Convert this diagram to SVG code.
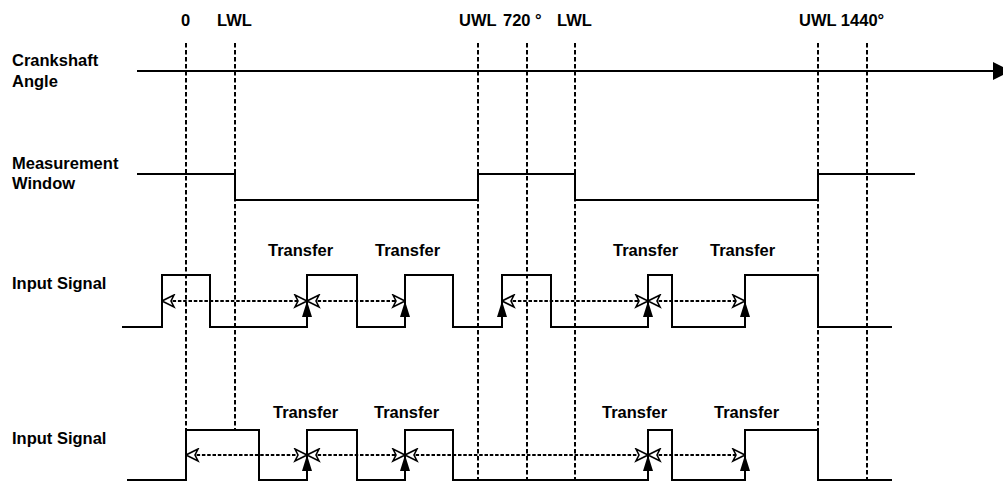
<svg xmlns="http://www.w3.org/2000/svg" width="1003" height="481" viewBox="0 0 1003 481">
<style>
text{font-family:"Liberation Sans",Arial,sans-serif;font-weight:bold;font-size:16.5px;fill:#000}
.sig{fill:none;stroke:#000;stroke-width:2;stroke-linejoin:miter}
.grid{fill:none;stroke:#000;stroke-width:2;stroke-dasharray:4.5 2.5}
.dash{fill:none;stroke:#000;stroke-width:2;stroke-dasharray:3.5 1.8}
.up{fill:#000;stroke:none}
</style>
<defs>
<marker id="open" viewBox="0 0 15 15" refX="14" refY="7.5" markerWidth="15" markerHeight="15" markerUnits="userSpaceOnUse" orient="auto-start-reverse">
<path d="M14,7.5 L2,1.5 L5,7.5 L2,13.5 Z" fill="#fff" stroke="#000" stroke-width="1.6" stroke-linejoin="miter"/>
</marker>
</defs>
<rect width="1003" height="481" fill="#fff"/>

<g id="top-labels">
<text x="181" y="26">0</text>
<text x="217" y="26">LWL</text>
<text x="459" y="26">UWL</text>
<text x="503" y="26">720 °</text>
<text x="557" y="26">LWL</text>
<text x="799" y="26">UWL 1440°</text>
</g>

<g id="grid-lines">
<line class="grid" x1="186" y1="43" x2="186" y2="481"/>
<line class="grid" x1="235" y1="43" x2="235" y2="430"/>
<line class="grid" x1="478" y1="43" x2="478" y2="481"/>
<line class="grid" x1="527" y1="43" x2="527" y2="481"/>
<line class="grid" x1="575" y1="43" x2="575" y2="481"/>
<line class="grid" x1="818" y1="43" x2="818" y2="430"/>
<line class="grid" x1="867" y1="43" x2="867" y2="481"/>
</g>

<g id="crankshaft-angle">
<text x="12" y="66">Crankshaft</text>
<text x="12" y="87">Angle</text>
<line class="sig" x1="137" y1="71" x2="995" y2="71"/>
<polygon points="993,62 993,80 1011,71" fill="#000"/>
</g>

<g id="measurement-window">
<text x="12" y="169">Measurement</text>
<text x="12" y="189">Window</text>
<polyline class="sig" points="137,174 235,174 235,200 478,200 478,174 575,174 575,200 818,200 818,174 915,174"/>
</g>

<g id="input-signal-1">
<text x="12" y="289">Input Signal</text>
<polyline class="sig" points="122,327 162,327 162,275 210,275 210,327 307,327 307,275 357,275 357,327 405,327 405,275 453,275 453,327 502,327 502,275 551,275 551,327 648,327 648,275 672,275 672,327 745,327 745,275 818,275 818,327 892,327"/>
<text x="268" y="256">Transfer</text>
<text x="375" y="256">Transfer</text>
<text x="613" y="256">Transfer</text>
<text x="710" y="256">Transfer</text>
</g>

<g id="input-signal-2">
<text x="12" y="444">Input Signal</text>
<polyline class="sig" points="127,480 186,480 186,430 259,430 259,480 307,480 307,430 357,430 357,480 405,480 405,430 453,430 453,480 648,480 648,430 672,430 672,480 745,480 745,430 818,430 818,480 892,480"/>
<text x="273" y="418">Transfer</text>
<text x="374" y="418">Transfer</text>
<text x="602" y="418">Transfer</text>
<text x="714" y="418">Transfer</text>
</g>

<g id="connectors">
<line class="dash" x1="162" y1="301" x2="307" y2="301" marker-start="url(#open)" marker-end="url(#open)"/>
<line class="dash" x1="307" y1="301" x2="405" y2="301" marker-start="url(#open)" marker-end="url(#open)"/>
<line class="dash" x1="502" y1="301" x2="648" y2="301" marker-start="url(#open)" marker-end="url(#open)"/>
<line class="dash" x1="648" y1="301" x2="745" y2="301" marker-start="url(#open)" marker-end="url(#open)"/>
<line class="dash" x1="186" y1="455" x2="307" y2="455" marker-start="url(#open)" marker-end="url(#open)"/>
<line class="dash" x1="307" y1="455" x2="405" y2="455" marker-start="url(#open)" marker-end="url(#open)"/>
<line class="dash" x1="405" y1="455" x2="648" y2="455" marker-start="url(#open)" marker-end="url(#open)"/>
<line class="dash" x1="648" y1="455" x2="745" y2="455" marker-start="url(#open)" marker-end="url(#open)"/>
<polygon class="up" points="307,301 302,317 312,317"/>
<polygon class="up" points="405,301 400,317 410,317"/>
<polygon class="up" points="502,301 497,317 507,317"/>
<polygon class="up" points="648,301 643,317 653,317"/>
<polygon class="up" points="745,301 740,317 750,317"/>
<polygon class="up" points="307,455 302,471 312,471"/>
<polygon class="up" points="405,455 400,471 410,471"/>
<polygon class="up" points="648,455 643,471 653,471"/>
<polygon class="up" points="745,455 740,471 750,471"/>
</g>
</svg>
